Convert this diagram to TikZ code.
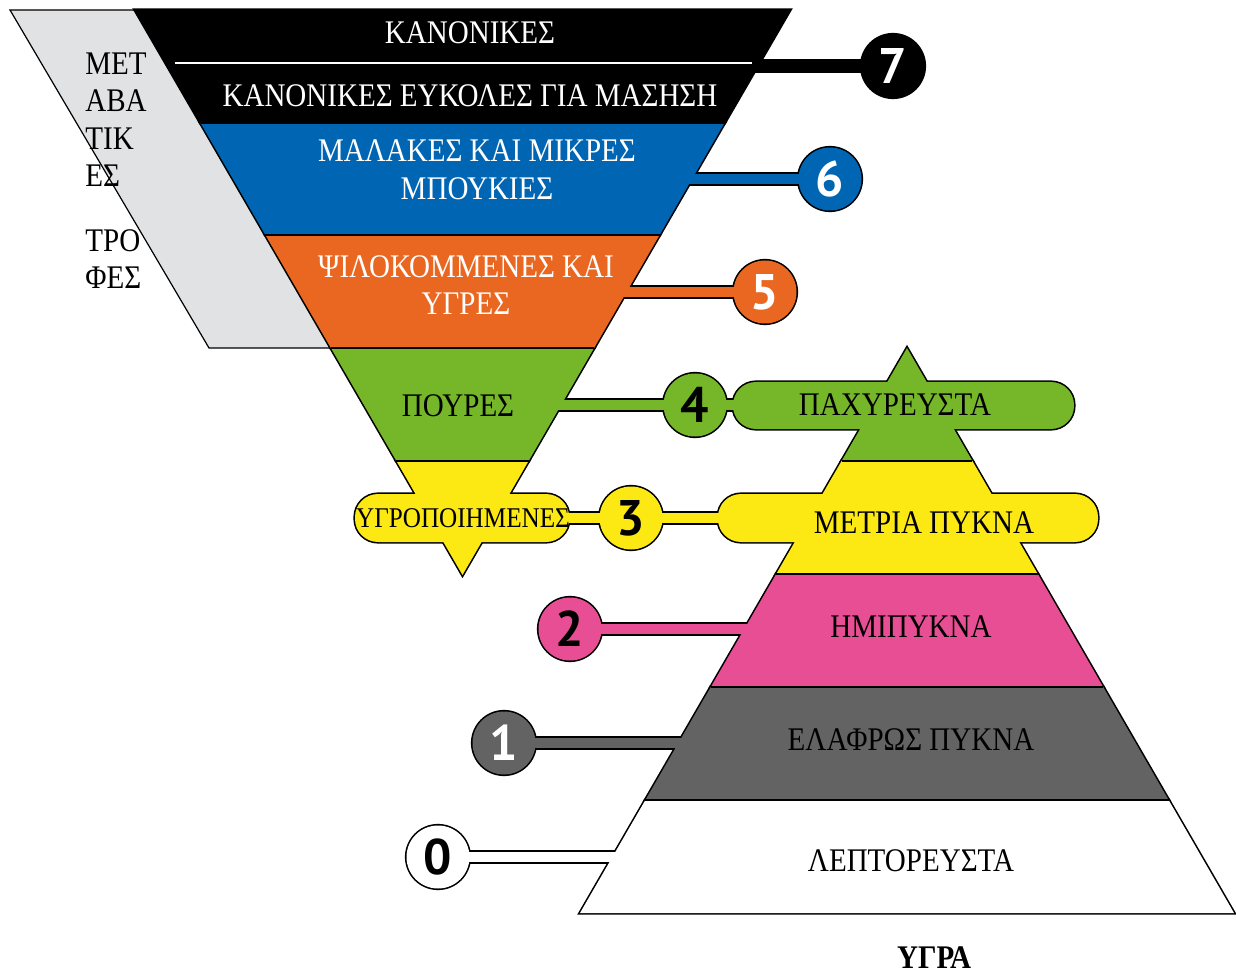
\documentclass[tikz,border=0pt]{standalone}
\usepackage{fontspec}
\setmainfont{Liberation Serif}[FakeStretch=0.88]
\newfontfamily\numfont{PT Sans}
\usepackage{xcolor}
\usepackage{tikz}
\usetikzlibrary{calc,positioning}

\definecolor{iddsiblue}{HTML}{0066B3}
\definecolor{iddsiorange}{HTML}{E96720}
\definecolor{iddsigreen}{HTML}{76B72A}
\definecolor{iddsiyellow}{HTML}{FCE813}
\definecolor{iddsipink}{HTML}{E74E93}
\definecolor{iddsigray}{HTML}{636363}
\definecolor{transgray}{HTML}{E1E2E4}

% every filled part of the framework, drawn twice (outline pass, fill pass)
\newcommand\iddsiparts{%
  % foods funnel
  \path[part=black] (f0l) -- (f0r) -- (f1r) -- (f1l) -- cycle;
  \path[part=iddsiblue] (f1l) -- (f1r) -- (f2r) -- (f2l) -- cycle;
  \path[part=iddsiorange] (f2l) -- (f2r) -- (f3r) -- (f3l) -- cycle;
  \path[part=iddsigreen] (f3l) -- (f3r) -- (f4r) -- (f4l) -- cycle;
  \path[part=iddsiyellow] (f4l) -- (f4r) -- (fa) -- cycle;
  % drinks pyramid
  \path[part=iddsigreen] (pa) -- (p1r) -- (p1l) -- cycle;
  \path[part=iddsiyellow] (p1l) -- (p1r) -- (p2r) -- (p2l) -- cycle;
  \path[part=iddsipink] (p2l) -- (p2r) -- (p3r) -- (p3l) -- cycle;
  \path[part=iddsigray] (p3l) -- (p3r) -- (p4r) -- (p4l) -- cycle;
  \path[part=white] (p4l) -- (p4r) -- (p5r) -- (p5l) -- cycle;
  % pills
  \path[part=iddsigreen,pill] (733,382) rectangle (1074,429);
  \path[part=iddsiyellow,pill] (718,494) rectangle (1098,542);
  \path[part=iddsiyellow,pill] (355,494) rectangle (569,542);
  % bars
  \path[bar=black] (b7) -- (c7);
  \path[bar=iddsiblue] (b6) -- (c6);
  \path[bar=iddsiorange] (b5) -- (c5);
  \path[bar=iddsigreen] (b4) -- (c4) -- (e4);
  \path[bar=iddsiyellow] (b3) -- (c3) -- (e3);
  \path[bar=iddsipink] (b2) -- (c2);
  \path[bar=iddsigray] (b1) -- (c1);
  \path[bar=white] (b0) -- (c0);
  % discs
  \foreach \lvl/\col in {7/black,6/iddsiblue,5/iddsiorange,4/iddsigreen,
                         3/iddsiyellow,2/iddsipink,1/iddsigray,0/white}
    \path[part=\col] (c\lvl) circle[radius=15.75pt];
}

\begin{document}
\begin{tikzpicture}[x=0.5pt,y=-0.5pt,
    lbl/.style={inner sep=1pt,font=\fontsize{16.5}{18.75}\selectfont},
    num/.style={inner sep=0pt,font=\numfont\bfseries\fontsize{25}{25}\selectfont},
    pill/.style={rounded corners=11.5pt},
    sep/.style={line width=0.8pt}]
  \useasboundingbox (0,0) rectangle (1236,978);

  % funnel edges
  \coordinate (f0l) at (135,10);    \coordinate (f0r) at (790,10);
  \coordinate (f1l) at (200.5,123); \coordinate (f1r) at (724.5,123);
  \coordinate (f2l) at (265.4,235); \coordinate (f2r) at (659.6,235);
  \coordinate (f3l) at (330.9,348); \coordinate (f3r) at (594.1,348);
  \coordinate (f4l) at (396.4,461); \coordinate (f4r) at (528.6,461);
  \coordinate (fa) at (462.5,575);
  % pyramid edges
  \coordinate (pa) at (907,348);
  \coordinate (p1l) at (841.6,461);  \coordinate (p1r) at (972.4,461);
  \coordinate (p2l) at (776.2,574);  \coordinate (p2r) at (1037.8,574);
  \coordinate (p3l) at (710.8,687);  \coordinate (p3r) at (1103.2,687);
  \coordinate (p4l) at (645.4,800);  \coordinate (p4r) at (1168.6,800);
  \coordinate (p5l) at (580,913);    \coordinate (p5r) at (1234,913);
  % disc centres and bar ends
  \coordinate (c7) at (893,66);  \coordinate (b7) at (740,66);
  \coordinate (c6) at (830,179); \coordinate (b6) at (675,179);
  \coordinate (c5) at (765,292); \coordinate (b5) at (610,292);
  \coordinate (c4) at (695,405); \coordinate (b4) at (545,405); \coordinate (e4) at (760,405);
  \coordinate (c3) at (631,518); \coordinate (b3) at (540,518); \coordinate (e3) at (745,518);
  \coordinate (c2) at (570,629); \coordinate (b2) at (760,629);
  \coordinate (c1) at (504,743); \coordinate (b1) at (695,743);
  \coordinate (c0) at (438,857); \coordinate (b0) at (630,857);

  % transitional foods strip
  \draw[fill=transgray,line width=0.6pt] (10,10) -- (f0l) -- (f3l) -- (209,348) -- cycle;

  \begin{scope}[part/.style={draw=black,line width=1.6pt},
                bar/.style={draw=black,line width=6.6pt}]
    \iddsiparts
  \end{scope}
  \begin{scope}[part/.style={fill=#1},
                bar/.style={draw=#1,line width=5pt}]
    \iddsiparts
  \end{scope}

  % level borders
  \foreach \b in {1,2,3,4} {
    \draw[sep] (f\b l) -- (f\b r);
    \draw[sep] (p\b l) -- (p\b r);
  }
  \draw[white,line width=1.3pt] (175,63) -- (752,63);

  % foods
  \node[lbl,white] (regular) at (470,33) {ΚΑΝΟΝΙΚΕΣ};
  \node[lbl,white] (easy) at (470,96) {ΚΑΝΟΝΙΚΕΣ ΕΥΚΟΛΕΣ ΓΙΑ ΜΑΣΗΣΗ};
  \node[lbl,white,align=center] (soft) at (477,170) {ΜΑΛΑΚΕΣ ΚΑΙ ΜΙΚΡΕΣ\\ΜΠΟΥΚΙΕΣ};
  \node[lbl,white,align=center] (minced) at (466,285) {ΨΙΛΟΚΟΜΜΕΝΕΣ ΚΑΙ\\ΥΓΡΕΣ};
  \node[lbl] (pureed) at (458,406) {ΠΟΥΡΕΣ};
  \node[lbl,font=\fontsize{14.3}{16}\selectfont] (liquidised) at (463,518) {ΥΓΡΟΠΟΙΗΜΕΝΕΣ};
  % drinks
  \node[lbl] (extremely) at (895,405) {ΠΑΧΥΡΕΥΣΤΑ};
  \node[lbl] (moderately) at (924,523) {ΜΕΤΡΙΑ ΠΥΚΝΑ};
  \node[lbl] (mildly) at (911,627) {ΗΜΙΠΥΚΝΑ};
  \node[lbl] (slightly) at (911,740) {ΕΛΑΦΡΩΣ ΠΥΚΝΑ};
  \node[lbl] (thin) at (911,861) {ΛΕΠΤΟΡΕΥΣΤΑ};
  \node[lbl,font=\bfseries\fontsize{16.5}{18.75}\selectfont] (drinks) at (934,958) {ΥΓΡΑ};
  % transitional
  \node[lbl,inner sep=0pt,anchor=north west,align=left] (trans) at (85,52) {ΜΕΤ\\ΑΒΑ\\ΤΙΚ\\ΕΣ};
  \node[lbl,inner sep=0pt,anchor=north west,align=left] (trans2) at (85,229) {ΤΡΟ\\ΦΕΣ};

  % level numbers
  \node[num,white] (n7) at (c7) {7};
  \node[num,white] (n6) at (c6) {6};
  \node[num,white] (n5) at (c5) {5};
  \node[num] (n4) at (c4) {4};
  \node[num] (n3) at (c3) {3};
  \node[num] (n2) at (c2) {2};
  \node[num,white] (n1) at (c1) {1};
  \node[num] (n0) at (c0) {0};
\end{tikzpicture}
\end{document}
